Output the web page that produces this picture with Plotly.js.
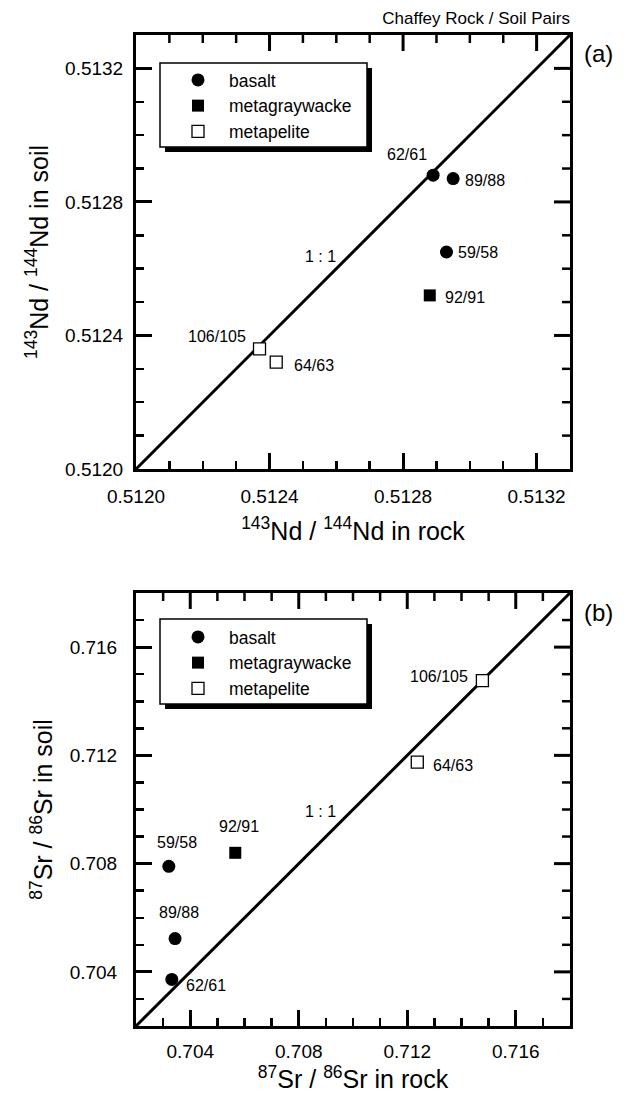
<!DOCTYPE html>
<html>
<head>
<meta charset="utf-8">
<script src="https://cdn.plot.ly/plotly-3.0.1.min.js"></script>
<style>html,body{margin:0;padding:0;background:#fff;}
#wrap{position:relative;width:626px;height:1097px;}
#panelA{position:absolute;left:0;top:0;width:626px;height:548px;}
#panelB{position:absolute;left:0;top:548px;width:626px;height:549px;}</style>
</head>
<body>
<div id="wrap"><div id="panelA"></div><div id="panelB"></div></div>
<script>
// ---- data ----
const samples   = ['62/61', '89/88', '59/58', '92/91', '106/105', '64/63'];
const rockTypes = ['basalt', 'basalt', 'basalt', 'metagraywacke', 'metapelite', 'metapelite'];
const ndRock = [0.51289, 0.51295, 0.51293, 0.51288, 0.51237, 0.51242];
const ndSoil = [0.51288, 0.51287, 0.51265, 0.51252, 0.51236, 0.51232];
const srRock = [0.70332, 0.70344, 0.70321, 0.70566, 0.71477, 0.71237];
const srSoil = [0.70372, 0.70523, 0.70790, 0.70840, 0.71476, 0.71175];
const typeNames = ['basalt', 'metagraywacke', 'metapelite'];
const ndRange = [0.5120, 0.5133];
const srRange = [0.702, 0.718];
const ndTicks = [0.5120, 0.5124, 0.5128, 0.5132];
const srTicks = [0.704, 0.708, 0.712, 0.716];

// ---- styles ----
const FONT = 'Liberation Sans, Arial, Helvetica, sans-serif';
const MAJOR_LEN = 16, MINOR_LEN = 8, MAJOR_W = 3, MINOR_W = 2.5;
const markerStyle = {
  basalt:        {symbol: 'circle', size: 13, color: '#000', line: {color: '#000', width: 0}},
  metagraywacke: {symbol: 'square', size: 12, color: '#000', line: {color: '#000', width: 0}},
  metapelite:    {symbol: 'square', size: 12, color: '#fff', line: {color: '#000', width: 1.3}}
};
const ndLabelPos = {
  '62/61':   {xanchor: 'center', xshift: -26, yshift: 21},
  '89/88':   {xanchor: 'left',   xshift: 10,  yshift: -2},
  '59/58':   {xanchor: 'left',   xshift: 10,  yshift: 0},
  '92/91':   {xanchor: 'left',   xshift: 13,  yshift: -2},
  '106/105': {xanchor: 'right',  xshift: -12, yshift: 12},
  '64/63':   {xanchor: 'left',   xshift: 16,  yshift: -3}
};
const srLabelPos = {
  '62/61':   {xanchor: 'left',   xshift: 12,  yshift: -6},
  '89/88':   {xanchor: 'center', xshift: 4,   yshift: 26},
  '59/58':   {xanchor: 'center', xshift: 8,   yshift: 24},
  '92/91':   {xanchor: 'center', xshift: 4,   yshift: 26},
  '106/105': {xanchor: 'right',  xshift: -12, yshift: 4},
  '64/63':   {xanchor: 'left',   xshift: 14,  yshift: -3}
};

function axis(range, ticks, fmt, minorStep, title, standoff, labelStandoff) {
  return {
    range: range, tickvals: ticks, tickformat: fmt,
    showline: true, linewidth: 3, linecolor: '#000', mirror: true,
    ticks: 'inside', ticklen: MAJOR_LEN, tickwidth: MAJOR_W, tickcolor: '#000',
    minor: {dtick: minorStep, tick0: range[0], ticks: 'inside', ticklen: MINOR_LEN, tickwidth: MINOR_W,
      tickcolor: '#000', showgrid: false},
    showgrid: false, zeroline: false, fixedrange: true,
    tickfont: {family: FONT, size: 19, color: '#000'},
    ticklabelstandoff: labelStandoff,
    title: {text: title, standoff: standoff, font: {family: FONT, size: 25, color: '#000'}}
  };
}

// tick marks on the top and right edges of the frame, at the axis tick positions
function frameTickTraces(range, ticks, minorStep, plotPx) {
  const span = range[1] - range[0];
  const major = {x: [], y: []}, minor = {x: [], y: []};
  const n = Math.round(span / minorStep);
  for (let k = 1; k < n; k++) {
    const v = range[0] + k * minorStep;
    const isMajor = ticks.some(t => Math.abs(t - v) < minorStep / 10);
    const len = (isMajor ? MAJOR_LEN : MINOR_LEN) / plotPx * span;
    const tgt = isMajor ? major : minor;
    tgt.x.push(v, v, null);                 tgt.y.push(range[1], range[1] - len, null); // top edge
    tgt.x.push(range[1], range[1] - len, null); tgt.y.push(v, v, null);                 // right edge
  }
  const mk = (d, w) => ({x: d.x, y: d.y, mode: 'lines', line: {color: '#000', width: w},
    cliponaxis: false, showlegend: false, hoverinfo: 'skip', connectgaps: false});
  return [mk(minor, MINOR_W), mk(major, MAJOR_W)];
}

function drawPanel(div, opt) {
  const W = 626, Hd = opt.height, L = 136, R = 570, T = opt.top, B = opt.bottom;
  const pxX = v => (v - L) / (R - L);     // div pixel -> paper x
  const pxY = v => (B - v) / (B - T);     // div pixel -> paper y
  const traces = [{x: opt.range, y: opt.range, mode: 'lines', line: {color: '#000', width: 3},
    showlegend: false, hoverinfo: 'skip'}].concat(frameTickTraces(opt.range, opt.ticks, opt.minor, R - L));
  typeNames.forEach(t => {
    const idx = rockTypes.map((r, i) => r === t ? i : -1).filter(i => i >= 0);
    traces.push({x: idx.map(i => opt.rock[i]), y: idx.map(i => opt.soil[i]),
      text: idx.map(i => samples[i]), mode: 'markers', name: t, marker: markerStyle[t]});
  });
  const ann = samples.map((s, i) => Object.assign({x: opt.rock[i], y: opt.soil[i], text: s,
    showarrow: false, yanchor: 'middle', font: {family: FONT, size: 16, color: '#000'}}, opt.labelPos[s]));
  ann.push({x: opt.ratioLabel[0], y: opt.ratioLabel[1], text: '1 : 1', showarrow: false,
    font: {family: FONT, size: 16, color: '#000'}});
  ann.push({x: pxX(582), y: pxY(opt.tagY), xref: 'paper', yref: 'paper', text: opt.tag, showarrow: false,
    xanchor: 'left', yanchor: 'middle', font: {family: FONT, size: 24, color: '#000'}});
  const lb = opt.legendBox;
  const shapes = [
    {type: 'rect', xref: 'paper', yref: 'paper', x0: pxX(lb[0] + 5), x1: pxX(lb[2] + 5),
      y0: pxY(lb[3] + 5), y1: pxY(lb[1] + 5), fillcolor: '#000', line: {width: 0}, layer: 'above'},
    {type: 'rect', xref: 'paper', yref: 'paper', x0: pxX(lb[0]), x1: pxX(lb[2]),
      y0: pxY(lb[3]), y1: pxY(lb[1]), fillcolor: '#fff', line: {color: '#000', width: 1.5}, layer: 'above'}
  ];
  const layout = {
    width: W, height: Hd, margin: {l: L, r: W - R, t: T, b: Hd - B, pad: 0},
    paper_bgcolor: '#fff', plot_bgcolor: '#fff', font: {family: FONT, color: '#000'},
    xaxis: axis(opt.range, opt.ticks, opt.fmt, opt.minor, opt.xTitle, opt.xStandoff, opt.xLabelStandoff),
    yaxis: axis(opt.range, opt.ticks, opt.fmt, opt.minor, opt.yTitle, opt.yStandoff, opt.yLabelStandoff),
    legend: {x: pxX(167), y: pxY(opt.legendTop), xanchor: 'left', yanchor: 'top', bgcolor: 'rgba(0,0,0,0)',
      borderwidth: 0, itemwidth: 52, traceorder: 'normal', font: {family: FONT, size: 17.5, color: '#000'}},
    showlegend: true, shapes: shapes, annotations: ann
  };
  if (opt.mainTitle) {
    layout.title = {text: opt.mainTitle, xref: 'container', yref: 'container', x: 570 / W, xanchor: 'right',
      y: 1 - 18 / Hd, yanchor: 'middle', font: {family: FONT, size: 17, color: '#000'}};
  }
  return Plotly.newPlot(div, traces, layout, {displayModeBar: false, staticPlot: true});
}

drawPanel('panelA', {
  height: 548, top: 35, bottom: 469, range: ndRange, ticks: ndTicks, fmt: '.4f', minor: 0.0001,
  rock: ndRock, soil: ndSoil, labelPos: ndLabelPos, ratioLabel: [0.512553, 0.512638],
  tag: '(a)', tagY: 53, legendBox: [160, 63, 367, 147], legendTop: 62,
  xTitle: '<sup>143</sup>Nd / <sup>144</sup>Nd in rock', yTitle: '<sup>143</sup>Nd / <sup>144</sup>Nd in soil',
  xStandoff: 17, yStandoff: 10, xLabelStandoff: 8, yLabelStandoff: 6,
  mainTitle: 'Chaffey Rock / Soil Pairs'
});
drawPanel('panelB', {
  height: 549, top: 45, bottom: 478, range: srRange, ticks: srTicks, fmt: '.3f', minor: 0.001,
  rock: srRock, soil: srSoil, labelPos: srLabelPos, ratioLabel: [0.70879, 0.70992],
  tag: '(b)', tagY: 64, legendBox: [160, 71, 367, 156], legendTop: 71,
  xTitle: '<sup>87</sup>Sr / <sup>86</sup>Sr in rock', yTitle: '<sup>87</sup>Sr / <sup>86</sup>Sr in soil',
  xStandoff: 6, yStandoff: 10, xLabelStandoff: 6, yLabelStandoff: 12
});
</script>
</body>
</html>
